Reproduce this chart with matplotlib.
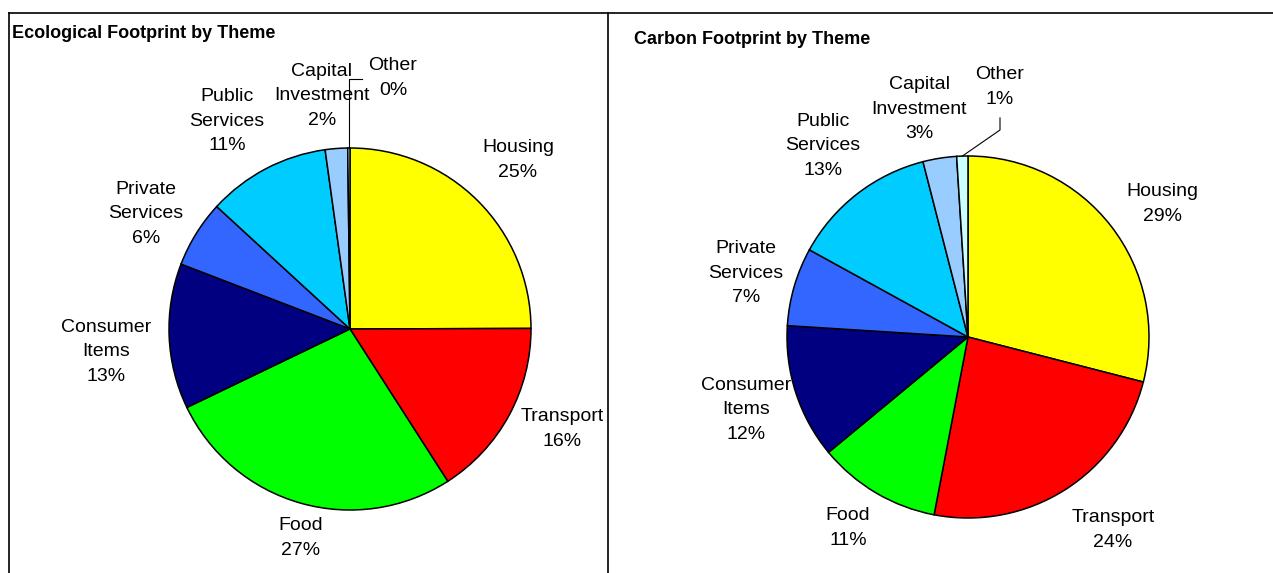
import matplotlib
matplotlib.use("Agg")
import matplotlib.pyplot as plt
import numpy as np

# ---------------- data ----------------
categories = ["Housing", "Transport", "Food", "Consumer\nItems", "Private\nServices",
              "Public\nServices", "Capital\nInvestment", "Other"]
eco_values = [25, 16, 27, 13, 6, 11, 2, 0.2]
carbon_values = [29, 24, 11, 12, 7, 13, 3, 1]
colors = ["#FFFF00", "#FF0000", "#00FF00", "#000080", "#3366FF", "#00CCFF", "#99CCFF", "#CCFFFF"]
titles = ["Ecological Footprint by Theme", "Carbon Footprint by Theme"]

# ---------------- layout (pixels, y from top) ----------------
W, H = 1273, 573
eco_center, carbon_center, radius = (350, 329), (968, 337), 181
eco_label_pos = [(518, 160), (562, 429), (301, 538), (106, 352), (146, 214),
                 (227, 121), (322, 96), (393, 78)]
carbon_label_pos = [(1162, 204), (1113, 530), (848, 528), (746, 410), (746, 273),
                    (823, 146), (919, 109), (1000, 87)]

plt.rcParams['font.family'] = ['Liberation Sans', 'DejaVu Sans']
fig = plt.figure(figsize=(W / 100, H / 100), dpi=100)
ax = fig.add_axes([0, 0, 1, 1])

def Y(y):
    return H - y

def draw_pie(values, center, label_pos):
    wedges, _ = ax.pie(values, colors=colors, startangle=90, counterclock=False,
                       center=(center[0], Y(center[1])), radius=radius,
                       wedgeprops=dict(edgecolor="black", linewidth=1.1))
    for cat, v, (lx, ly) in zip(categories, values, label_pos):
        ax.text(lx, Y(ly), f"{cat}\n{v:.0f}%", ha="center", va="center",
                fontsize=14, linespacing=1.6, color="black")
    return wedges

w1 = draw_pie(eco_values, eco_center, eco_label_pos)
w2 = draw_pie(carbon_values, carbon_center, carbon_label_pos)

# leader lines for "Other"
def wedge_edge_point(w, center):
    ang = np.deg2rad((w.theta1 + w.theta2) / 2)
    return center[0] + radius * np.cos(ang), Y(center[1]) + radius * np.sin(ang)

x0, y0 = wedge_edge_point(w1[-1], eco_center)
ax.plot([x0, x0, 362], [y0, Y(79), Y(79)], color="black", lw=0.8)
x0, y0 = wedge_edge_point(w2[-1], carbon_center)
ax.plot([x0, 1000, 1000], [y0, Y(130), Y(118)], color="black", lw=0.8)

# titles
ax.text(12, Y(34), titles[0], fontsize=13, fontweight="bold", ha="left", va="center")
ax.text(634, Y(39), titles[1], fontsize=13, fontweight="bold", ha="left", va="center")

# panel borders
ax.plot([9, W], [Y(12.5), Y(12.5)], color="black", lw=1.2)
ax.plot([9, 9], [Y(12.5), 0], color="black", lw=1.2)
ax.plot([608, 608], [Y(12.5), 0], color="black", lw=1.2)

ax.set_xlim(0, W)
ax.set_ylim(0, H)
ax.set_aspect("equal")
ax.axis("off")

fig.savefig("out.png", dpi=100)
